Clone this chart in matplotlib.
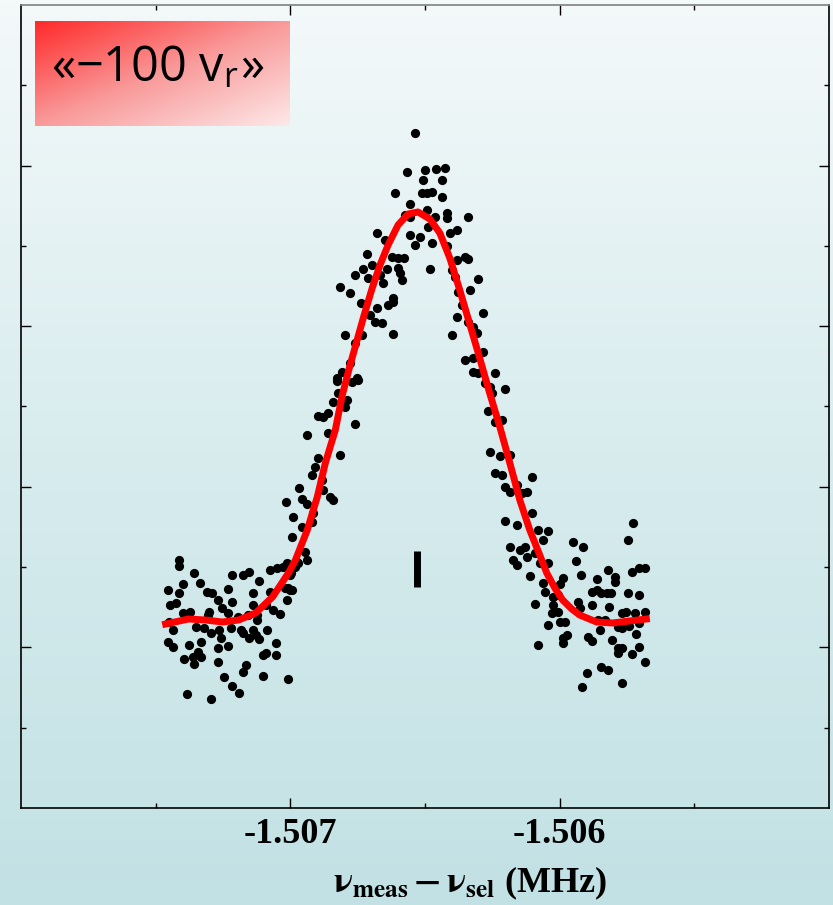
import numpy as np
import matplotlib.pyplot as plt
from matplotlib.colors import LinearSegmentedColormap

# measured spectrum (frequency in MHz, signal in arb. counts)
x_left = [-1.507415, -1.507415, -1.507356, -1.507456, -1.507397, -1.507337, -1.507415, -1.507311, -1.507292, -1.507270,
          -1.507233, -1.507215, -1.507174, -1.507155, -1.507115, -1.507137, -1.507215, -1.507445, -1.507426, -1.507252,
          -1.507233, -1.507303, -1.507397, -1.507371, -1.507137, -1.507074, -1.507048, -1.507029, -1.506996, -1.506970,
          -1.507074, -1.507018, -1.507000, -1.507011, -1.507092, -1.507063, -1.507037, -1.507122, -1.507159, -1.507196,
          -1.507307, -1.507452, -1.507352, -1.507322, -1.507437, -1.507266, -1.507296, -1.507222, -1.507185, -1.507174,
          -1.507140, -1.507129, -1.507122, -1.507085, -1.507118, -1.507155, -1.507259, -1.507456, -1.507434, -1.507378,
          -1.507333, -1.507270, -1.507233, -1.507341, -1.507360, -1.507333, -1.507393, -1.507356, -1.507270, -1.507166,
          -1.507177, -1.507103, -1.507092, -1.507055, -1.507055, -1.507103, -1.507007, -1.507248, -1.507215, -1.507192,
          -1.507382, -1.507296]
y_left = [248, 242, 235, 218, 224, 225, 215, 216, 215, 208,
          219, 233, 233, 236, 227, 215, 206, 203, 205, 200,
          195, 196, 195, 196, 203, 238, 240, 241, 235, 245,
          216, 220, 218, 208, 203, 198, 194, 193, 193, 191,
          193, 186, 181, 180, 178, 178, 175, 180, 178, 175,
          178, 173, 188, 178, 169, 170, 170, 166, 161, 163,
          166, 160, 162, 156, 151, 151, 149, 144, 146, 143,
          136, 153, 155, 165, 153, 132, 129, 131, 122, 115,
          114, 109]

x_rise = [-1.506826, -1.506770, -1.506748, -1.506822, -1.506841, -1.506789, -1.506796, -1.506896, -1.506878, -1.506859,
          -1.506759, -1.506937, -1.506859, -1.506896, -1.506815, -1.506907, -1.506919, -1.506966, -1.506881, -1.506878,
          -1.506956, -1.506937, -1.506852, -1.506841, -1.507015, -1.506915, -1.506919, -1.506989, -1.506956, -1.506992,
          -1.506945, -1.506937, -1.506974, -1.506981, -1.507011, -1.507000, -1.507007, -1.506992]
y_rise = [427, 426, 428, 415, 406, 408, 401, 392, 391, 395,
          384, 373, 375, 350, 353, 341, 333, 320, 328, 318,
          309, 304, 311, 308, 306, 295, 286, 291, 281, 271,
          256, 248, 246, 241, 245, 233, 220, 218]

x_top = [-1.506611, -1.506511, -1.506556, -1.506574, -1.506556, -1.506678, -1.506648, -1.506556, -1.506537, -1.506519,
         -1.506715, -1.506622, -1.506600, -1.506578, -1.506696, -1.506730, -1.506759, -1.506641, -1.506600, -1.506593,
         -1.506711, -1.506667, -1.506656, -1.506586, -1.506815, -1.506778, -1.506737, -1.506678, -1.506704, -1.506685,
         -1.506659, -1.506637, -1.506619, -1.506619, -1.506796, -1.506733, -1.506759, -1.506778, -1.506807, -1.506826,
         -1.506752,
         -1.506537, -1.506567, -1.506500, -1.506508, -1.506460, -1.506426, -1.506437, -1.506493, -1.506474, -1.506437,
         -1.506419, -1.506419, -1.506463, -1.506493, -1.506341, -1.506489, -1.506382, -1.506408, -1.506474, -1.506419,
         -1.506482, -1.506382, -1.506352, -1.506341, -1.506400, -1.506389, -1.506304, -1.506378, -1.506334, -1.506619]
y_top = [615, 615, 604, 593, 591, 575, 568, 573, 563, 571,
         554, 551, 550, 550, 543, 539, 533, 539, 540, 535,
         530, 533, 525, 528, 521, 515, 505, 500, 493, 486,
         485, 503, 506, 474, 473, 473, 465, 445, 436, 430,
         430,
         675, 636, 638, 628, 639, 640, 628, 615, 616, 611,
         595, 590, 591, 598, 591, 581, 578, 575, 565, 562,
         539, 548, 551, 549, 538, 531, 529, 516, 518, 510]

x_fall = [-1.506363, -1.506286, -1.506382, -1.506341, -1.506323, -1.506400, -1.506308, -1.506286, -1.506352, -1.506323,
          -1.506323, -1.506304, -1.506241, -1.506278, -1.506260, -1.506252, -1.506204, -1.506267, -1.506241, -1.506215,
          -1.506260, -1.506222, -1.506185, -1.506241, -1.506215, -1.506104, -1.506204, -1.506185, -1.506159, -1.506141,
          -1.506122, -1.506104, -1.506204, -1.506159, -1.506081, -1.506044, -1.506063, -1.506185, -1.506148, -1.506129,
          -1.506174, -1.506159, -1.506122, -1.506044, -1.506111, -1.506063, -1.506055, -1.506092, -1.506026, -1.506026,
          -1.506007]
y_fall = [503, 495, 491, 486, 481, 473, 475, 456, 448, 450,
          436, 435, 435, 425, 421, 415, 419, 397, 386, 388,
          356, 352, 353, 335, 333, 331, 321, 316, 323, 315,
          316, 295, 287, 283, 278, 277, 268, 261, 258, 261,
          248, 243, 251, 245, 232, 225, 216, 204, 211, 203,
          213]

x_right = [-1.505952, -1.505915, -1.505726, -1.505745, -1.506092, -1.506074, -1.505941, -1.505822, -1.505796, -1.505796,
           -1.505733, -1.505704, -1.505685, -1.505922, -1.505863, -1.505989, -1.506000, -1.505881, -1.505863, -1.505845,
           -1.505826, -1.505808, -1.505748, -1.505704, -1.506029, -1.506007, -1.505933, -1.505926, -1.505881, -1.505815,
           -1.505770, -1.505752, -1.505722, -1.505685, -1.506000, -1.505981, -1.506044, -1.505859, -1.505833, -1.505852,
           -1.505785, -1.505767, -1.505741, -1.505704, -1.505974, -1.505989, -1.505989, -1.505896, -1.505881, -1.505804,
           -1.505715, -1.506081, -1.505785, -1.505767, -1.505785, -1.505704, -1.505730, -1.505685, -1.505845, -1.505822,
           -1.505900, -1.505918, -1.505767]
y_right = [266, 261, 285, 268, 255, 245, 247, 238, 231, 226,
           236, 240, 240, 233, 229, 230, 224, 216, 218, 215,
           215, 215, 215, 213, 195, 196, 206, 200, 203, 201,
           195, 196, 195, 196, 186, 186, 183, 188, 188, 178,
           181, 180, 182, 185, 173, 170, 165, 171, 167, 168,
           174, 163, 160, 160, 155, 161, 154, 146, 141, 138,
           135, 121, 125]

# fitted curve
fit_x = [-1.507463, -1.507378, -1.507315, -1.507252, -1.507192, -1.507129, -1.507066, -1.507007, -1.506981, -1.506937,
         -1.506900, -1.506870, -1.506833, -1.506807, -1.506778, -1.506752, -1.506726, -1.506696, -1.506667, -1.506637,
         -1.506600, -1.506563, -1.506526, -1.506482, -1.506445, -1.506408, -1.506371, -1.506334, -1.506297, -1.506260,
         -1.506222, -1.506185, -1.506148, -1.506111, -1.506074, -1.506048, -1.506018, -1.505989, -1.505955, -1.505926,
         -1.505863, -1.505804, -1.505741, -1.505678]
fit_y = [184, 189, 188, 186, 188, 195, 211, 235, 248, 278,
         311, 345, 378, 413, 443, 468, 493, 520, 543, 563,
         583, 594, 596, 589, 575, 550, 518, 484, 450, 415,
         381, 345, 308, 278, 253, 235, 220, 208, 199, 193,
         186, 185, 187, 189]

# typical error bar
err_x = -1.506530
err_lo, err_hi = 221, 257

x = x_left + x_rise + x_top + x_fall + x_right
y = y_left + y_rise + y_top + y_fall + y_right

plt.rcParams['mathtext.fontset'] = 'stix'

fig = plt.figure(figsize=(8.33, 9.05), dpi=100)

# light teal background gradient
bg = fig.add_axes([0, 0, 1, 1], zorder=-10)
grad = np.linspace(0, 1, 256).reshape(-1, 1)
bg_cmap = LinearSegmentedColormap.from_list(
    'bg', [(0, '#f4f9fa'), (0.5, '#d8ecee'), (1, '#c2e1e4')])
bg.imshow(grad, aspect='auto', cmap=bg_cmap, extent=[0, 1, 0, 1], origin='upper')
bg.axis('off')

ax = fig.add_axes([21/833, 1 - 808/905, 808/833, 803/905])
ax.set_facecolor('none')
ax.scatter(x, y, s=44, c='k', linewidths=0, zorder=2)
ax.plot(fit_x, fit_y, color='#ff0000', lw=5, zorder=3, solid_joinstyle='round')
ax.plot([err_x, err_x], [err_lo, err_hi], color='k', lw=5, solid_capstyle='butt', zorder=3)

ax.set_xlim(-1.508, -1.505)
ax.set_ylim(0, 803)
ax.set_xticks([-1.507, -1.506])
ax.set_xticklabels(['-1.507', '-1.506'], fontfamily='Liberation Serif',
                   fontweight='bold', fontsize=26)
ax.set_xticks([-1.5075, -1.5065, -1.5055], minor=True)
ax.set_yticks(np.arange(160.6, 803, 160.6))
ax.set_yticks(np.arange(80.3, 803, 160.6), minor=True)
ax.tick_params(which='both', direction='in', top=True, right=True,
               labelleft=False, width=1)
ax.tick_params(which='major', length=7, pad=7)
ax.tick_params(which='minor', length=3.5)
for s in ax.spines.values():
    s.set_linewidth(1.2)
ax.spines['top'].set_color('#808080')

fig.text(470/833, 1 - 883/905, r'$\mathbf{\nu_{meas}-\nu_{sel}}$ (MHz)',
         ha='center', va='center', fontsize=26, fontweight='bold',
         fontfamily='Liberation Serif')

# red label box
box = fig.add_axes([35/833, 1 - 126/905, 255/833, 105/905])
u, v = np.meshgrid(np.linspace(0, 1, 200), np.linspace(0, 1, 100))
box_cmap = LinearSegmentedColormap.from_list('box', ['#ff2a2a', '#f99a9a', '#fde8e8'])
box.imshow((u + v) / 2, aspect='auto', cmap=box_cmap, extent=[0, 1, 0, 1], origin='upper')
box.axis('off')
box.text(0.48, 0.55, '«−100 v$_\\mathregular{r}$»', transform=box.transAxes,
         ha='center', va='center', fontsize=35, fontfamily='Open Sans')

plt.savefig('out.png', dpi=100)
